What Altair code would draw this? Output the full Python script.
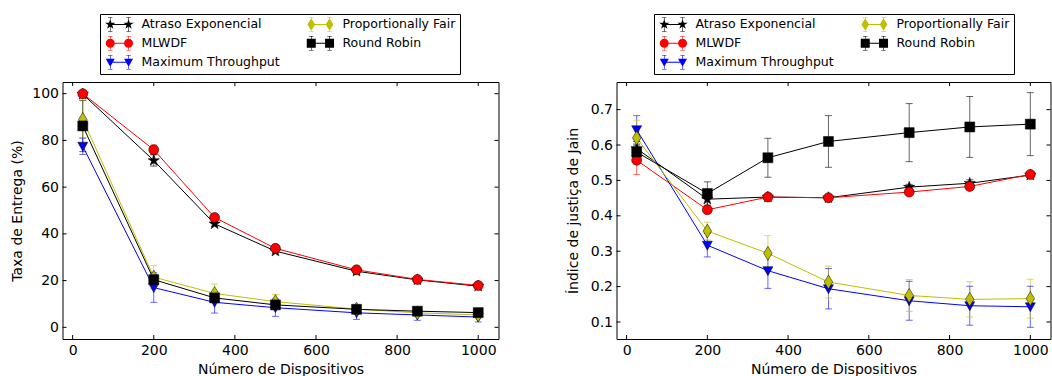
import math
import altair as alt
import pandas as pd

# ---------------- data ----------------
X = [25, 200, 350, 500, 700, 850, 1000]
SERIES = ["Atraso Exponencial", "MLWDF", "Maximum Throughput", "Proportionally Fair", "Round Robin"]
COLORS = ["#000000", "#ff0000", "#0000ff", "#bfbf00", "#000000"]

# Taxa de Entrega (%)
ent_atraso = [99.8, 71.4, 44.3, 32.6, 24.0, 20.3, 17.6]
ent_atraso_err = [0.5, 2.4, 1.0, 0.8, 0.8, 0.8, 0.6]
ent_mlwdf = [100.0, 76.0, 47.0, 33.8, 24.6, 20.5, 17.9]
ent_mlwdf_err = [0.4, 2.0, 1.0, 0.8, 0.8, 0.6, 0.6]
ent_mt = [77.5, 17.0, 10.7, 8.4, 6.2, 5.3, 4.4]
ent_mt_err = [3.5, 6.3, 4.6, 3.7, 2.8, 2.3, 2.1]
ent_pf = [89.0, 21.5, 14.5, 11.0, 7.8, 6.2, 5.3]
ent_pf_err = [8.0, 5.0, 4.0, 3.0, 2.0, 1.5, 1.5]
ent_rr = [86.2, 20.4, 12.6, 9.6, 7.7, 6.9, 6.3]
ent_rr_err = [11.0, 2.0, 1.5, 1.5, 1.2, 1.5, 1.0]

# Indice de justica de Jain
jain_atraso = [0.590, 0.447, 0.453, 0.451, 0.481, 0.492, 0.515]
jain_atraso_err = [0.02, 0.02, 0.005, 0.005, 0.008, 0.01, 0.005]
jain_mlwdf = [0.557, 0.417, 0.453, 0.451, 0.467, 0.483, 0.517]
jain_mlwdf_err = [0.04, 0.01, 0.005, 0.005, 0.008, 0.008, 0.006]
jain_mt = [0.643, 0.317, 0.245, 0.194, 0.160, 0.146, 0.143]
jain_mt_err = [0.04, 0.033, 0.05, 0.057, 0.055, 0.055, 0.058]
jain_pf = [0.620, 0.357, 0.294, 0.213, 0.175, 0.164, 0.166]
jain_pf_err = [0.05, 0.025, 0.05, 0.045, 0.045, 0.05, 0.055]
jain_rr = [0.580, 0.463, 0.564, 0.610, 0.635, 0.651, 0.659]
jain_rr_err = [0.02, 0.033, 0.055, 0.073, 0.082, 0.086, 0.089]

X_TICKS = [0, 200, 400, 600, 800, 1000]
Y_TICKS_LEFT = [0, 20, 40, 60, 80, 100]
Y_TICKS_RIGHT = [0.1, 0.2, 0.3, 0.4, 0.5, 0.6, 0.7]

FONT = "DejaVu Sans"
W_LEFT, W_RIGHT, H = 436, 434, 257


# ---------------- marker geometry ----------------
def star_pts(r_out, r_in):
    pts = []
    for k in range(10):
        a = math.radians(-90 + 36 * k)
        r = r_out if k % 2 == 0 else r_in
        pts.append((r * math.cos(a), r * math.sin(a)))
    return pts


MARKERS = {
    "Atraso Exponencial": ("poly", star_pts(1.2, 0.46)),
    "MLWDF": ("circle", 1.0),
    "Maximum Throughput": ("poly", [(-1.0, -0.8), (1.0, -0.8), (0.0, 1.0)]),
    "Proportionally Fair": ("poly", [(0.0, -1.4), (0.85, 0.0), (0.0, 1.4), (-0.85, 0.0)]),
    "Round Robin": ("poly", [(-1.0, -1.0), (1.0, -1.0), (1.0, 1.0), (-1.0, 1.0)]),
}


def poly_path(points, dx=0.0, s=1.0):
    pts = [(x * s + dx, y * s) for x, y in points]
    n = len(pts)
    area = sum(pts[i][0] * pts[(i + 1) % n][1] - pts[(i + 1) % n][0] * pts[i][1] for i in range(n))
    if area < 0:
        pts = pts[::-1]
    return "M" + "L".join(f"{x:.3f},{y:.3f}" for x, y in pts) + "Z"


def circle_path(r, dx=0.0):
    return (f"M{dx - r:.3f},0A{r:.3f},{r:.3f},0,1,1,{dx + r:.3f},0"
            f"A{r:.3f},{r:.3f},0,1,1,{dx - r:.3f},0Z")


def rect(x0, x1, y0, y1):
    return poly_path([(x0, y0), (x1, y0), (x1, y1), (x0, y1)])


def marker_path(name, dx=0.0, s=1.0):
    kind, g = MARKERS[name]
    if kind == "circle":
        return circle_path(g * s, dx)
    return poly_path(g, dx, s)


def legend_path(name):
    d = 3.66
    parts = [rect(0, d, -0.11, 0.11)]
    for cx in (0.0, d):
        parts.append(rect(cx - 0.06, cx + 0.06, -1.4, 1.4))
        parts.append(rect(cx - 0.45, cx + 0.45, -1.46, -1.34))
        parts.append(rect(cx - 0.45, cx + 0.45, 1.34, 1.46))
        parts.append(marker_path(name, cx, 0.9))
    return "".join(parts)


PLOT_PATHS = [marker_path(s) for s in SERIES]
LEG_PATHS = [legend_path(s) for s in SERIES]


def long_df(vals, errs):
    rows = []
    for s, v, e in zip(SERIES, vals, errs):
        for xi, vi, ei in zip(X, v, e):
            rows.append({"series": s, "x": xi, "y": vi, "lo": vi - ei, "hi": vi + ei})
    return pd.DataFrame(rows)


def panel(df, ydom, yticks, ytitle, yfmt, width, title_pad):
    xs = alt.Scale(domain=[-25, 1050], nice=False, zero=False)
    ys = alt.Scale(domain=ydom, nice=False, zero=False)
    sc = alt.Scale(domain=SERIES, range=COLORS)
    stroke = alt.Stroke("series:N", scale=sc, legend=None)
    fill = alt.Fill("series:N", scale=sc, legend=None)
    xaxis = alt.Axis(values=X_TICKS, format="d", title="Número de Dispositivos",
                     labelPadding=4, titlePadding=5)
    yaxis = alt.Axis(values=yticks, format=yfmt, title=ytitle, labelPadding=4, titlePadding=title_pad)

    def xe(f):
        return alt.X(f, scale=xs, axis=xaxis)

    def ye(f):
        return alt.Y(f, scale=ys, axis=yaxis)

    base = alt.Chart(df)
    line = base.mark_line(strokeWidth=1).encode(
        x=xe("x:Q"), y=ye("y:Q"), stroke=stroke, detail="series:N", order="x:Q")
    err = base.mark_rule(strokeWidth=1, opacity=0.6).encode(
        x=xe("x:Q"), y=ye("lo:Q"), y2="hi:Q", stroke=stroke)
    caps_df = pd.concat([df.assign(c=df["lo"]), df.assign(c=df["hi"])])
    caps = alt.Chart(caps_df).mark_tick(orient="horizontal", size=7, thickness=1, opacity=0.6).encode(
        x=xe("x:Q"), y=ye("c:Q"), fill=fill)
    pts = base.mark_point(filled=True, opacity=1, size=100, stroke="black", strokeWidth=0.5).encode(
        x=xe("x:Q"), y=ye("y:Q"), fill=fill,
        shape=alt.Shape("series:N", scale=alt.Scale(domain=SERIES, range=PLOT_PATHS), legend=None))
    leg = alt.Legend(orient="none", legendX=37.5, legendY=-68, columns=2, title=None,
                     strokeColor="black", fillColor="white", padding=4, labelFont=FONT,
                     labelFontSize=12.5, labelColor="black", labelOffset=25, rowPadding=3,
                     columnPadding=25, symbolSize=100, symbolStrokeWidth=0, symbolOpacity=1,
                     labelLimit=400)
    legend_layer = alt.Chart(pd.DataFrame({"series": SERIES})).mark_point(
        filled=True, opacity=1, size=100, strokeWidth=0).encode(
        color=alt.Color("series:N", scale=alt.Scale(domain=SERIES, range=COLORS), legend=leg),
        shape=alt.Shape("series:N", scale=alt.Scale(domain=SERIES, range=LEG_PATHS), legend=leg),
    ).transform_filter("datum.series == 'none'")

    xt = alt.Chart(pd.DataFrame({"v": X_TICKS}))
    yt = alt.Chart(pd.DataFrame({"v": yticks}))
    xb = xt.mark_rule(color="black", strokeWidth=1).encode(
        x=xe("v:Q"), y=alt.value(H - 4), y2=alt.value(H))
    xtop = xt.mark_rule(color="black", strokeWidth=1).encode(
        x=xe("v:Q"), y=alt.value(0), y2=alt.value(4))
    yl = yt.mark_rule(color="black", strokeWidth=1).encode(
        y=ye("v:Q"), x=alt.value(0), x2=alt.value(4))
    yr = yt.mark_rule(color="black", strokeWidth=1).encode(
        y=ye("v:Q"), x=alt.value(width - 4), x2=alt.value(width))

    return alt.layer(line, err, caps, pts, legend_layer, xb, xtop, yl, yr).resolve_scale(
        shape="independent").resolve_legend(color="independent", shape="independent").properties(
        width=width, height=H)


left = panel(long_df([ent_atraso, ent_mlwdf, ent_mt, ent_pf, ent_rr],
                     [ent_atraso_err, ent_mlwdf_err, ent_mt_err, ent_pf_err, ent_rr_err]),
             [-5, 105], Y_TICKS_LEFT, "Taxa de Entrega (%)", "d", W_LEFT, 7)
right = panel(long_df([jain_atraso, jain_mlwdf, jain_mt, jain_pf, jain_rr],
                      [jain_atraso_err, jain_mlwdf_err, jain_mt_err, jain_pf_err, jain_rr_err]),
              [0.052, 0.778], Y_TICKS_RIGHT, "Índice de justiça de Jain", ".1f", W_RIGHT, 10)

chart = alt.hconcat(left, right, spacing=66).resolve_scale(
    shape="independent", fill="independent", color="independent", stroke="independent"
).resolve_legend(shape="independent", color="independent").properties(
    padding={"left": 9.5, "top": 13, "right": 0, "bottom": 0}, background="white"
).configure_view(stroke="black", strokeWidth=1).configure_axis(
    labelFont=FONT, titleFont=FONT, labelFontSize=14, titleFontSize=14, titleFontWeight="normal",
    labelColor="black", titleColor="black", ticks=False, domain=False, grid=False)

chart.save("out.html", embed_options={"renderer": "svg", "actions": False})
